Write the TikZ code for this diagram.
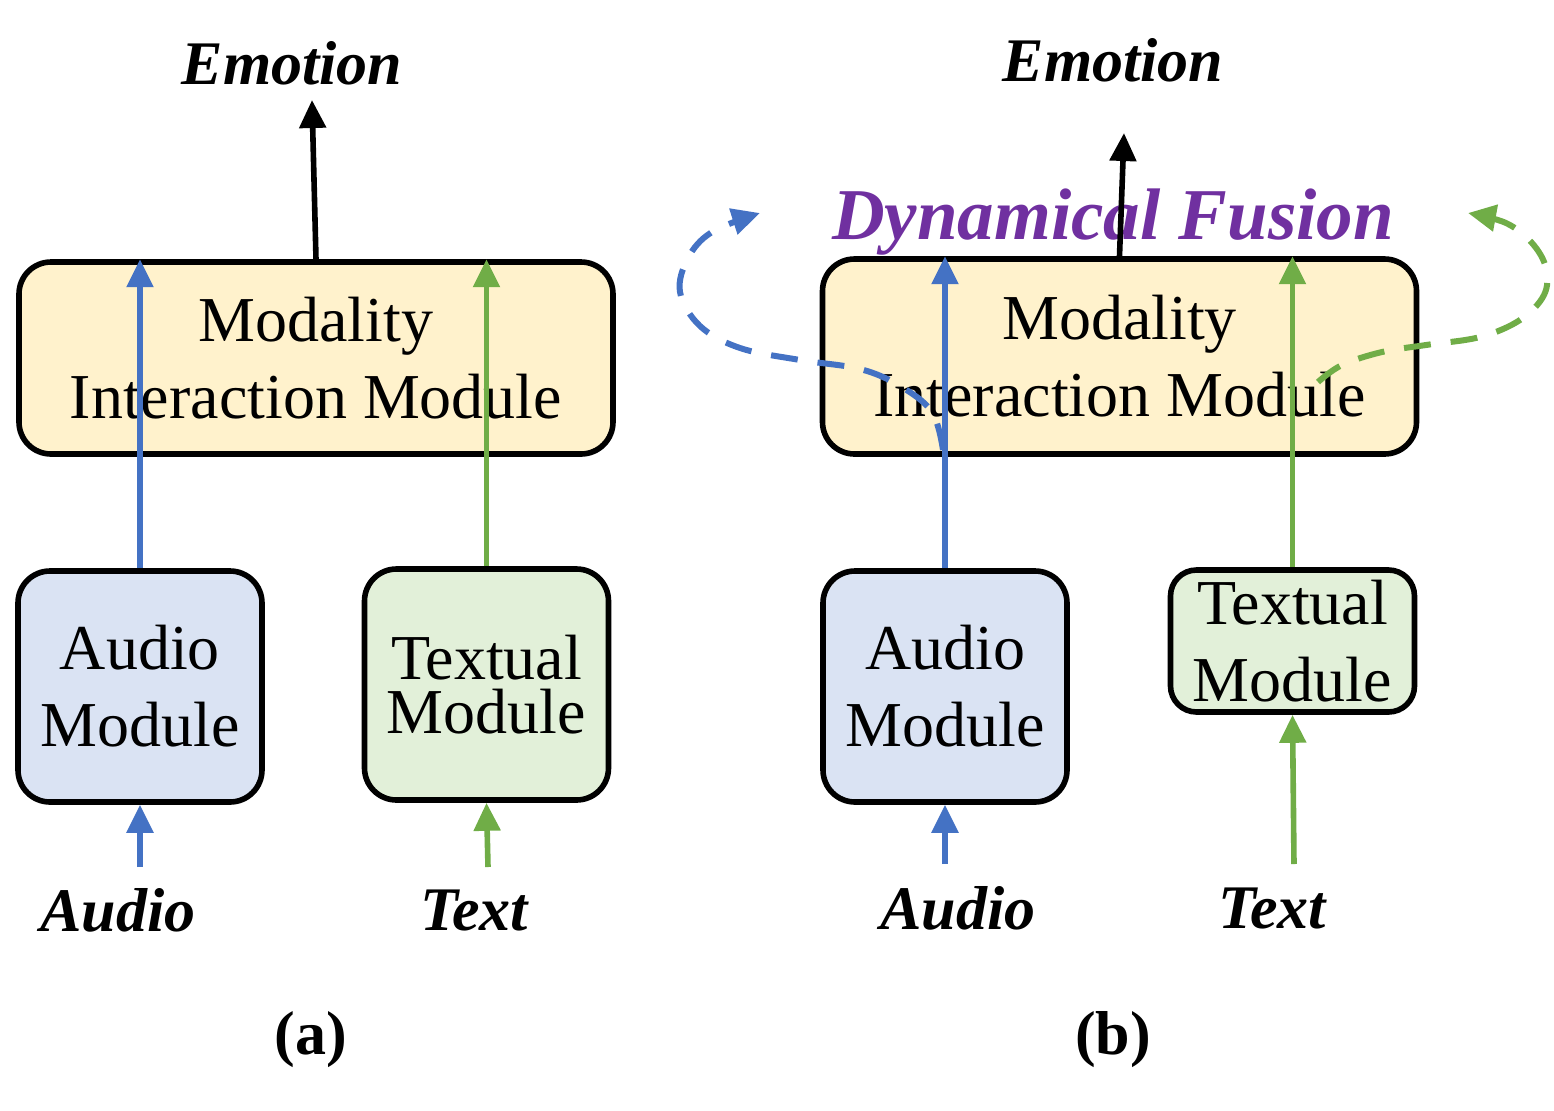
\documentclass[tikz,border=0pt]{standalone}
\usepackage{fontspec}
\setmainfont{Liberation Serif}
\usetikzlibrary{arrows.meta}
\definecolor{myblue}{HTML}{4472C4}
\definecolor{mygreen}{HTML}{70AD47}
\definecolor{mypurple}{HTML}{7030A0}
\definecolor{yfill}{HTML}{FFF2CC}
\definecolor{bfill}{HTML}{DAE3F3}
\definecolor{gfill}{HTML}{E2F0D9}
\begin{document}
\begin{tikzpicture}[x=0.5pt,y=-0.5pt,
  box/.style={draw, line width=2.8pt, rounded corners=16pt, align=center, inner sep=0pt,
    font=\fontsize{32}{38.5}\selectfont},
  mimbox/.style={box, fill=yfill, minimum width=297pt, minimum height=96pt},
  audbox/.style={box, fill=bfill, minimum width=122pt, minimum height=115.5pt},
  txtbox/.style={box, fill=gfill, minimum width=122pt, minimum height=115.5pt},
  tipstyle/.style={-{Triangle[width=13pt,length=14pt]}},
  barr/.style={draw=myblue, line width=2.8pt, tipstyle},
  garr/.style={draw=mygreen, line width=2.8pt, tipstyle},
  karr/.style={draw=black, line width=2.8pt, tipstyle},
  dashline/.style={line width=3pt, dash pattern=on 13.5pt off 10pt, tipstyle},
  lbl/.style={font=\fontsize{31}{37}\selectfont\bfseries\itshape, inner sep=0pt},
  captext/.style={font=\fontsize{31}{37}\selectfont\bfseries, inner sep=0pt}
]
\useasboundingbox (0,0) rectangle (1554,1110);

% ---------- (a) ----------
\node[mimbox] (mimA) at (316,358) {Modality\\Interaction Module};
\node[audbox] (audA) at (140,686.5) {Audio\\Module};
\node[txtbox, font=\fontsize{32}{27}\selectfont] (txtA) at (486.5,684.5) {Textual\\Module};
\node[lbl] (emoA) at (292,63) {Emotion};
\node[lbl] (audLA) at (118,910) {Audio};
\node[lbl] (txtLA) at (474,910) {Text};
\node[captext] (capA) at (311,1040) {(a)};
\coordinate (emoAend) at (312,100);
\coordinate (inAud) at (140,867);
\coordinate (inTxt) at (488,867);

\draw[barr] (audA.north) -- (audA.north |- mimA.north);
\draw[garr] (txtA.north) -- (txtA.north |- mimA.north);
\draw[karr] (mimA.north) -- (emoAend);
\draw[barr] (inAud) -- (audA.south);
\draw[garr] (inTxt) -- (txtA.south);

% ---------- (b) ----------
\node[mimbox, minimum height=97.5pt] (mimB) at (1119.5,356.5) {Modality\\Interaction Module};
\node[audbox] (audB) at (945,686.5) {Audio\\Module};
\node[txtbox, minimum height=71pt, rounded corners=13pt] (txtB) at (1292.5,641) {Textual\\Module};
\node[lbl] (emoB) at (1113,60) {Emotion};
\node[lbl, text=mypurple, font=\fontsize{36.5}{40}\selectfont\bfseries\itshape] (dyn) at (1113,222) {Dynamical Fusion};
\node[lbl] (audLB) at (958,908) {Audio};
\node[lbl] (txtLB) at (1272,908) {Text};
\node[captext] (capB) at (1113,1040) {(b)};
\coordinate (emoBend) at (1124,133);
\coordinate (inAudB) at (945,864);
\coordinate (inTxtB) at (1294,864);

\draw[barr] (audB.north) -- (audB.north |- mimB.north);
\draw[garr] (txtB.north) -- (txtB.north |- mimB.north);
\draw[karr] (mimB.north) -- (emoBend);
\draw[barr] (inAudB) -- (audB.south);
\draw[garr] (inTxtB) -- (txtB.south);

% dashed loops
\draw[dashline, draw=myblue] plot[smooth, tension=0.6] coordinates {
  (943,450) (932,412) (900,386) (860,369) (800,360) (740,348) (700,326) (680,292) (688,258) (712,232) (760,213)};
\draw[dashline, draw=mygreen] plot[smooth, tension=0.6] coordinates {
  (1318,382) (1342,365) (1382,352) (1426,345) (1480,337) (1520,320) (1544,295) (1546,268) (1532,243) (1506,223) (1468,213)};
\end{tikzpicture}
\end{document}
